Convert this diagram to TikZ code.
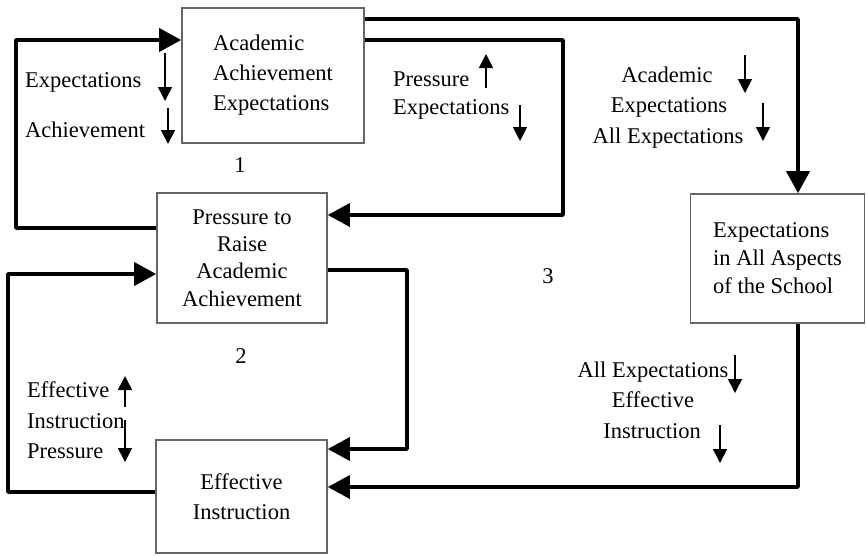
\documentclass[tikz,border=0pt]{standalone}
\usepackage{fontspec}
\setmainfont{Liberation Serif}
\usetikzlibrary{arrows.meta}
\begin{document}
\begin{tikzpicture}[x=1pt,y=-1pt,
  every node/.style={font=\fontsize{22.5}{30}\selectfont, inner sep=0pt},
  box/.style={draw=black!60, line width=1.6pt, fill=white},
  flow/.style={line width=3.6pt, line join=round, -{Triangle[length=22pt,width=23pt]}},
  ind/.style={line width=1.6pt, -{Triangle[length=14pt,width=14pt]}},
  lbl/.style={anchor=base west},
  clbl/.style={anchor=base}]
\useasboundingbox (0,0) rectangle (866,555);

% boxes
\node[box, minimum width=182pt, minimum height=135pt, align=left] (b1) at (273,75.5)
  {Academic\\Achievement\\Expectations};
\node[box, minimum width=170pt, minimum height=130pt, align=center,
  font=\fontsize{22.5}{27.3}\selectfont] (b2) at (242,258)
  {Pressure to\\Raise\\Academic\\Achievement};
\node[box, minimum width=171pt, minimum height=113pt, align=center] (b3) at (241.5,496.5)
  {Effective\\Instruction};
\node[box, minimum width=174pt, minimum height=129pt, align=left,
  font=\fontsize{22.5}{28}\selectfont] (b4) at (777.5,258.5)
  {Expectations\\in All Aspects\\of the School};

% bends of the loops
\coordinate (c1) at (16,228);  \coordinate (c2) at (16,40);
\coordinate (c3) at (563,40);  \coordinate (c4) at (563,215);
\coordinate (c5) at (798,19);
\coordinate (c6) at (407,270); \coordinate (c7) at (407,449);
\coordinate (c8) at (8,492);   \coordinate (c9) at (8,274);
\coordinate (c10) at (798,487);

% loop 1
\draw[flow] (b2.west |- c1) -- (c1) -- (c2) -- (b1.west |- c2);
\draw[flow] (b1.east |- c3) -- (c3) -- (c4) -- (b2.east |- c4);
% loop 2
\draw[flow] (b2.east |- c6) -- (c6) -- (c7) -- (b3.east |- c7);
\draw[flow] (b3.west |- c8) -- (c8) -- (c9) -- (b2.west |- c9);
% loop 3
\draw[flow] (b1.east |- c5) -- (c5) -- (c5 |- b4.north);
\draw[flow] (c10 |- b4.south) -- (c10) -- (b3.east |- c10);

% loop numbers
\node[clbl] (n1) at (240,172) {1};
\node[clbl] (n2) at (241,363) {2};
\node[clbl] (n3) at (548,283) {3};

% loop 1 labels
\node[lbl] (t1) at (25,87) {Expectations};
\node[lbl] (t2) at (25,137) {Achievement};
\draw[ind] (165,53) -- (165,101);
\draw[ind] (168,108) -- (168,144);
\node[lbl] (t3) at (393,86) {Pressure};
\node[lbl] (t4) at (393,114) {Expectations};
\draw[ind] (486,88) -- (486,54);
\draw[ind] (520,105) -- (520,141);

% loop 2 labels
\node[lbl] (t5) at (27,397) {Effective};
\node[lbl] (t6) at (27,428) {Instruction};
\node[lbl] (t7) at (27,458) {Pressure};
\draw[ind] (125,407) -- (125,376);
\draw[ind] (125,420) -- (125,462);

% loop 3 labels
\node[clbl] (t8) at (667,82) {Academic};
\node[clbl] (t9) at (669,112) {Expectations};
\node[clbl] (t10) at (668,143) {All Expectations};
\draw[ind] (745,55) -- (745,93);
\draw[ind] (763,103) -- (763,141);
\node[clbl] (t11) at (653,377) {All Expectations};
\node[clbl] (t12) at (653,407) {Effective};
\node[clbl] (t13) at (652,438) {Instruction};
\draw[ind] (735,355) -- (735,393);
\draw[ind] (720,425) -- (720,463);
\end{tikzpicture}
\end{document}
